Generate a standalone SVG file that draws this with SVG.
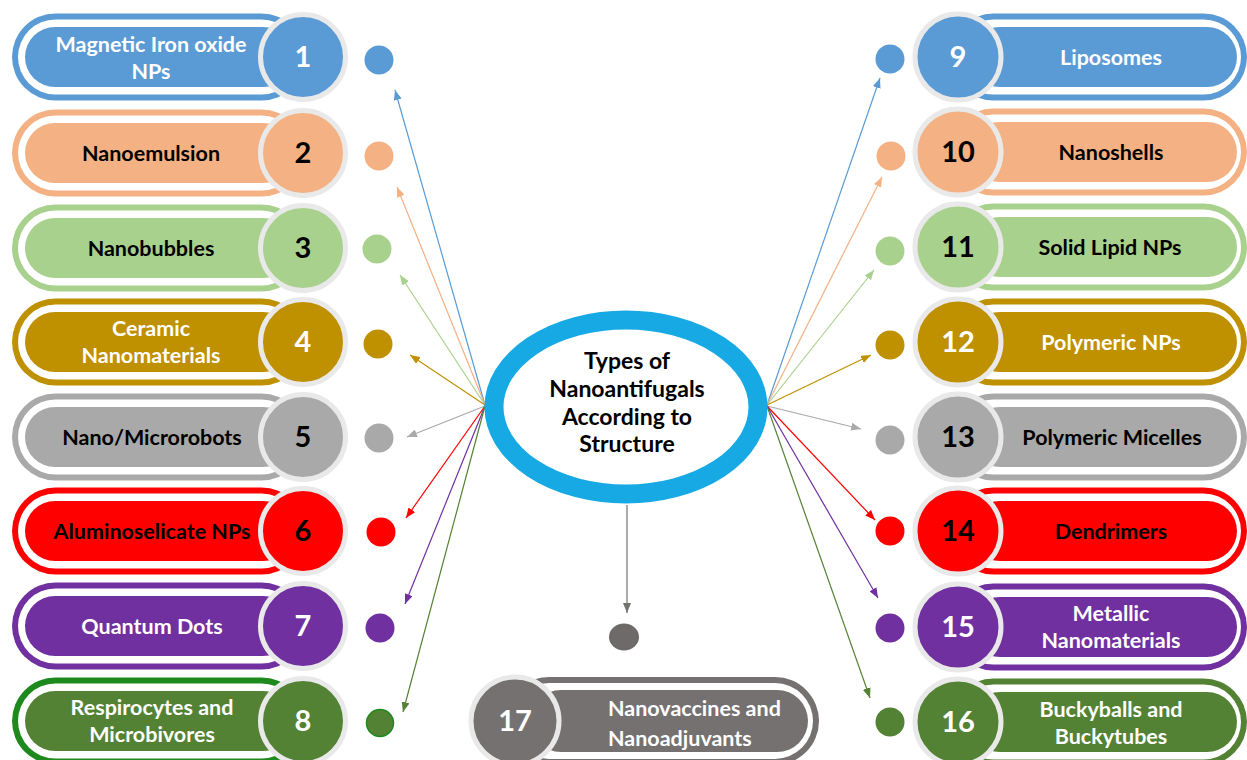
<svg xmlns="http://www.w3.org/2000/svg" width="1247" height="760" viewBox="0 0 1247 760">
<style>
text{font-family:Lato,"Liberation Sans",sans-serif;font-weight:bold;text-anchor:middle}
.lbl{font-size:21.5px}
.num{font-size:29px}
.ctr{font-size:23px;fill:#000}
.w{fill:#fff}
.k{fill:#000}
.ring{stroke:#e9e9e9;stroke-width:5}
.gap{fill:#fff}
.cn{fill:none;stroke-width:1.2}
</style>
<defs>
<marker id="mb" viewBox="0 0 10 8" markerWidth="10" markerHeight="8" refX="10" refY="4" orient="auto" markerUnits="userSpaceOnUse"><path d="M0,0L10,4L0,8z" fill="#5b9bd5"/></marker>
<marker id="mo" viewBox="0 0 10 8" markerWidth="10" markerHeight="8" refX="10" refY="4" orient="auto" markerUnits="userSpaceOnUse"><path d="M0,0L10,4L0,8z" fill="#f4b183"/></marker>
<marker id="mg" viewBox="0 0 10 8" markerWidth="10" markerHeight="8" refX="10" refY="4" orient="auto" markerUnits="userSpaceOnUse"><path d="M0,0L10,4L0,8z" fill="#a9d18e"/></marker>
<marker id="my" viewBox="0 0 10 8" markerWidth="10" markerHeight="8" refX="10" refY="4" orient="auto" markerUnits="userSpaceOnUse"><path d="M0,0L10,4L0,8z" fill="#bf9000"/></marker>
<marker id="ma" viewBox="0 0 10 8" markerWidth="10" markerHeight="8" refX="10" refY="4" orient="auto" markerUnits="userSpaceOnUse"><path d="M0,0L10,4L0,8z" fill="#a9a9a9"/></marker>
<marker id="mr" viewBox="0 0 10 8" markerWidth="10" markerHeight="8" refX="10" refY="4" orient="auto" markerUnits="userSpaceOnUse"><path d="M0,0L10,4L0,8z" fill="#ff0000"/></marker>
<marker id="mp" viewBox="0 0 10 8" markerWidth="10" markerHeight="8" refX="10" refY="4" orient="auto" markerUnits="userSpaceOnUse"><path d="M0,0L10,4L0,8z" fill="#7030a0"/></marker>
<marker id="md" viewBox="0 0 10 8" markerWidth="10" markerHeight="8" refX="10" refY="4" orient="auto" markerUnits="userSpaceOnUse"><path d="M0,0L10,4L0,8z" fill="#548235"/></marker>
<marker id="mk" viewBox="0 0 10 8" markerWidth="10" markerHeight="8" refX="10" refY="4" orient="auto" markerUnits="userSpaceOnUse"><path d="M0,0L10,4L0,8z" fill="#767171"/></marker>
</defs>
<rect width="1247" height="760" fill="#fff"/>

<!-- LEFT NODES -->
<g id="n1">
<rect x="12" y="13.5" width="293" height="87" rx="43.5" fill="#5b9bd5"/>
<rect class="gap" x="18" y="19.5" width="281" height="75" rx="37.5"/>
<rect x="25" y="27" width="268" height="60" rx="30" fill="#5b9bd5"/>
<circle class="ring" cx="303" cy="57" r="42.5" fill="#5b9bd5"/>
<text class="lbl w" x="151" y="52">Magnetic Iron oxide<tspan x="151" dy="27">NPs</tspan></text>
<text class="num w" x="303" y="67">1</text>
<circle cx="379" cy="60" r="14.5" fill="#5b9bd5"/>
</g>
<g id="n2">
<rect x="12" y="109.5" width="293" height="87" rx="43.5" fill="#f4b183"/>
<rect class="gap" x="18" y="115.5" width="281" height="75" rx="37.5"/>
<rect x="25" y="123" width="268" height="60" rx="30" fill="#f4b183"/>
<circle class="ring" cx="303" cy="153" r="42.5" fill="#f4b183"/>
<text class="lbl k" x="151" y="161">Nanoemulsion</text>
<text class="num k" x="303" y="163">2</text>
<circle cx="379" cy="156" r="14.5" fill="#f4b183"/>
</g>
<g id="n3">
<rect x="12" y="204.5" width="293" height="87" rx="43.5" fill="#a9d18e"/>
<rect class="gap" x="18" y="210.5" width="281" height="75" rx="37.5"/>
<rect x="25" y="218" width="268" height="60" rx="30" fill="#a9d18e"/>
<circle class="ring" cx="303" cy="248" r="42.5" fill="#a9d18e"/>
<text class="lbl k" x="151" y="256">Nanobubbles</text>
<text class="num k" x="303" y="258">3</text>
<circle cx="377" cy="249" r="14.5" fill="#a9d18e"/>
</g>
<g id="n4">
<rect x="12" y="298.5" width="293" height="87" rx="43.5" fill="#bf9000"/>
<rect class="gap" x="18" y="304.5" width="281" height="75" rx="37.5"/>
<rect x="25" y="312" width="268" height="60" rx="30" fill="#bf9000"/>
<circle class="ring" cx="303" cy="342" r="42.5" fill="#bf9000"/>
<text class="lbl w" x="151" y="336">Ceramic<tspan x="151" dy="27">Nanomaterials</tspan></text>
<text class="num w" x="303" y="352">4</text>
<circle cx="378" cy="344" r="14.5" fill="#bf9000"/>
</g>
<g id="n5">
<rect x="12" y="393.5" width="293" height="87" rx="43.5" fill="#a9a9a9"/>
<rect class="gap" x="18" y="399.5" width="281" height="75" rx="37.5"/>
<rect x="25" y="407" width="268" height="60" rx="30" fill="#a9a9a9"/>
<circle class="ring" cx="303" cy="437" r="42.5" fill="#a9a9a9"/>
<text class="lbl k" x="152" y="445">Nano/Microrobots</text>
<text class="num k" x="303" y="447">5</text>
<circle cx="379" cy="438" r="14.5" fill="#a9a9a9"/>
</g>
<g id="n6">
<rect x="12" y="487.5" width="293" height="87" rx="43.5" fill="#ff0000"/>
<rect class="gap" x="18" y="493.5" width="281" height="75" rx="37.5"/>
<rect x="25" y="501" width="268" height="60" rx="30" fill="#ff0000"/>
<circle class="ring" cx="303" cy="531" r="42.5" fill="#ff0000"/>
<text class="lbl k" x="152" y="539">Aluminoselicate NPs</text>
<text class="num k" x="303" y="541">6</text>
<circle cx="381" cy="532" r="14.5" fill="#ff0000"/>
</g>
<g id="n7">
<rect x="12" y="582.5" width="293" height="87" rx="43.5" fill="#7030a0"/>
<rect class="gap" x="18" y="588.5" width="281" height="75" rx="37.5"/>
<rect x="25" y="596" width="268" height="60" rx="30" fill="#7030a0"/>
<circle class="ring" cx="303" cy="626" r="42.5" fill="#7030a0"/>
<text class="lbl w" x="152" y="634">Quantum Dots</text>
<text class="num w" x="303" y="636">7</text>
<circle cx="380" cy="628" r="14.5" fill="#7030a0"/>
</g>
<g id="n8">
<rect x="12" y="677.5" width="293" height="87" rx="43.5" fill="#1e8a1e"/>
<rect class="gap" x="18" y="683.5" width="281" height="75" rx="37.5"/>
<rect x="25" y="691" width="268" height="60" rx="30" fill="#548235"/>
<circle class="ring" cx="303" cy="721" r="42.5" fill="#548235"/>
<text class="lbl w" x="152" y="715">Respirocytes and<tspan x="152" dy="27">Microbivores</tspan></text>
<text class="num w" x="303" y="731">8</text>
<circle cx="380" cy="723" r="13.5" fill="#548235" stroke="#1e8a1e" stroke-width="1.5"/>
</g>

<!-- RIGHT NODES -->
<g id="n9">
<rect x="950" y="13.5" width="297" height="87" rx="43.5" fill="#5b9bd5"/>
<rect class="gap" x="956" y="19.5" width="285" height="75" rx="37.5"/>
<rect x="970" y="27" width="267" height="60" rx="30" fill="#5b9bd5"/>
<circle class="ring" cx="958" cy="57" r="43" fill="#5b9bd5"/>
<text class="lbl w" x="1111" y="65">Liposomes</text>
<text class="num w" x="958" y="67">9</text>
<circle cx="890" cy="59" r="14.5" fill="#5b9bd5"/>
</g>
<g id="n10">
<rect x="950" y="108.5" width="297" height="87" rx="43.5" fill="#f4b183"/>
<rect class="gap" x="956" y="114.5" width="285" height="75" rx="37.5"/>
<rect x="970" y="122" width="267" height="60" rx="30" fill="#f4b183"/>
<circle class="ring" cx="958" cy="152" r="43" fill="#f4b183"/>
<text class="lbl k" x="1111" y="160">Nanoshells</text>
<text class="num k" x="958" y="162">10</text>
<circle cx="891" cy="156" r="14.5" fill="#f4b183"/>
</g>
<g id="n11">
<rect x="950" y="203.5" width="297" height="87" rx="43.5" fill="#a9d18e"/>
<rect class="gap" x="956" y="209.5" width="285" height="75" rx="37.5"/>
<rect x="970" y="217" width="267" height="60" rx="30" fill="#a9d18e"/>
<circle class="ring" cx="958" cy="247" r="43" fill="#a9d18e"/>
<text class="lbl k" x="1110" y="255">Solid Lipid NPs</text>
<text class="num k" x="958" y="257">11</text>
<circle cx="890" cy="251" r="14.5" fill="#a9d18e"/>
</g>
<g id="n12">
<rect x="950" y="298.5" width="297" height="87" rx="43.5" fill="#bf9000"/>
<rect class="gap" x="956" y="304.5" width="285" height="75" rx="37.5"/>
<rect x="970" y="312" width="267" height="60" rx="30" fill="#bf9000"/>
<circle class="ring" cx="958" cy="342" r="43" fill="#bf9000"/>
<text class="lbl w" x="1111" y="350">Polymeric NPs</text>
<text class="num w" x="958" y="352">12</text>
<circle cx="890" cy="345" r="14.5" fill="#bf9000"/>
</g>
<g id="n13">
<rect x="950" y="393.5" width="297" height="87" rx="43.5" fill="#a9a9a9"/>
<rect class="gap" x="956" y="399.5" width="285" height="75" rx="37.5"/>
<rect x="970" y="407" width="267" height="60" rx="30" fill="#a9a9a9"/>
<circle class="ring" cx="958" cy="437" r="43" fill="#a9a9a9"/>
<text class="lbl k" x="1112" y="445">Polymeric Micelles</text>
<text class="num k" x="958" y="447">13</text>
<circle cx="890" cy="440" r="14.5" fill="#a9a9a9"/>
</g>
<g id="n14">
<rect x="950" y="487.5" width="297" height="87" rx="43.5" fill="#ff0000"/>
<rect class="gap" x="956" y="493.5" width="285" height="75" rx="37.5"/>
<rect x="970" y="501" width="267" height="60" rx="30" fill="#ff0000"/>
<circle class="ring" cx="958" cy="531" r="43" fill="#ff0000"/>
<text class="lbl k" x="1111" y="539">Dendrimers</text>
<text class="num k" x="958" y="541">14</text>
<circle cx="890" cy="531" r="14.5" fill="#ff0000"/>
</g>
<g id="n15">
<rect x="950" y="583.5" width="297" height="87" rx="43.5" fill="#7030a0"/>
<rect class="gap" x="956" y="589.5" width="285" height="75" rx="37.5"/>
<rect x="970" y="597" width="267" height="60" rx="30" fill="#7030a0"/>
<circle class="ring" cx="958" cy="627" r="43" fill="#7030a0"/>
<text class="lbl w" x="1111" y="621">Metallic<tspan x="1111" dy="27">Nanomaterials</tspan></text>
<text class="num w" x="958" y="637">15</text>
<circle cx="890" cy="628" r="14.5" fill="#7030a0"/>
</g>
<g id="n16">
<rect x="950" y="678.5" width="297" height="87" rx="43.5" fill="#548235"/>
<rect class="gap" x="956" y="684.5" width="285" height="75" rx="37.5"/>
<rect x="970" y="692" width="267" height="60" rx="30" fill="#548235"/>
<circle class="ring" cx="958" cy="722" r="43" fill="#548235"/>
<text class="lbl w" x="1111" y="717">Buckyballs and<tspan x="1111" dy="27">Buckytubes</tspan></text>
<text class="num w" x="958" y="732">16</text>
<circle cx="890" cy="722" r="14.5" fill="#548235"/>
</g>

<!-- BOTTOM NODE -->
<g id="n17">
<rect x="505" y="677" width="314" height="88" rx="44" fill="#767171"/>
<rect class="gap" x="511" y="683" width="302" height="76" rx="38"/>
<rect x="530" y="690" width="278" height="62" rx="31" fill="#767171"/>
<circle class="ring" cx="515" cy="721" r="44" fill="#767171"/>
<text class="lbl w" x="608" y="716" style="text-anchor:start">Nanovaccines and<tspan x="608" dy="30">Nanoadjuvants</tspan></text>
<text class="num w" x="515" y="731">17</text>
<ellipse cx="624" cy="637" rx="15" ry="13.5" fill="#6f6a6a"/>
</g>

<!-- CONNECTORS -->
<g id="connectors">
<line class="cn" x1="485" y1="405" x2="395" y2="90" stroke="#5b9bd5" marker-end="url(#mb)"/>
<line class="cn" x1="485" y1="405" x2="397" y2="187" stroke="#f4b183" marker-end="url(#mo)"/>
<line class="cn" x1="485" y1="405" x2="400" y2="275" stroke="#a9d18e" marker-end="url(#mg)"/>
<line class="cn" x1="485" y1="405" x2="410" y2="355" stroke="#bf9000" stroke-width="1.6" marker-end="url(#my)"/>
<line class="cn" x1="485" y1="406" x2="407" y2="437" stroke="#a9a9a9" marker-end="url(#ma)"/>
<line class="cn" x1="485" y1="406" x2="406" y2="518" stroke="#ff0000" marker-end="url(#mr)"/>
<line class="cn" x1="485" y1="406" x2="405" y2="604" stroke="#7030a0" marker-end="url(#mp)"/>
<line class="cn" x1="485" y1="406" x2="403" y2="712" stroke="#548235" marker-end="url(#md)"/>
<line class="cn" x1="767" y1="405" x2="880" y2="78" stroke="#5b9bd5" marker-end="url(#mb)"/>
<line class="cn" x1="767" y1="405" x2="882" y2="177" stroke="#f4b183" marker-end="url(#mo)"/>
<line class="cn" x1="767" y1="405" x2="874" y2="270" stroke="#a9d18e" marker-end="url(#mg)"/>
<line class="cn" x1="767" y1="405" x2="871" y2="355" stroke="#bf9000" stroke-width="1.6" marker-end="url(#my)"/>
<line class="cn" x1="767" y1="406" x2="861" y2="429" stroke="#a9a9a9" marker-end="url(#ma)"/>
<line class="cn" x1="767" y1="406" x2="875" y2="520" stroke="#ff0000" marker-end="url(#mr)"/>
<line class="cn" x1="767" y1="406" x2="878" y2="598" stroke="#7030a0" marker-end="url(#mp)"/>
<line class="cn" x1="767" y1="406" x2="870" y2="698" stroke="#548235" marker-end="url(#md)"/>
<line class="cn" x1="627" y1="505" x2="627" y2="613" stroke="#767171" marker-end="url(#mk)"/>
</g>

<!-- CENTER -->
<g id="center">
<ellipse cx="626" cy="407" rx="132" ry="87" fill="#fff" stroke="#16a9e4" stroke-width="19"/>
<text class="ctr" x="627" y="369">Types of<tspan x="627" dy="27.8">Nanoantifugals</tspan><tspan x="627" dy="27.8">According to</tspan><tspan x="627" dy="27.8">Structure</tspan></text>
</g>
</svg>
